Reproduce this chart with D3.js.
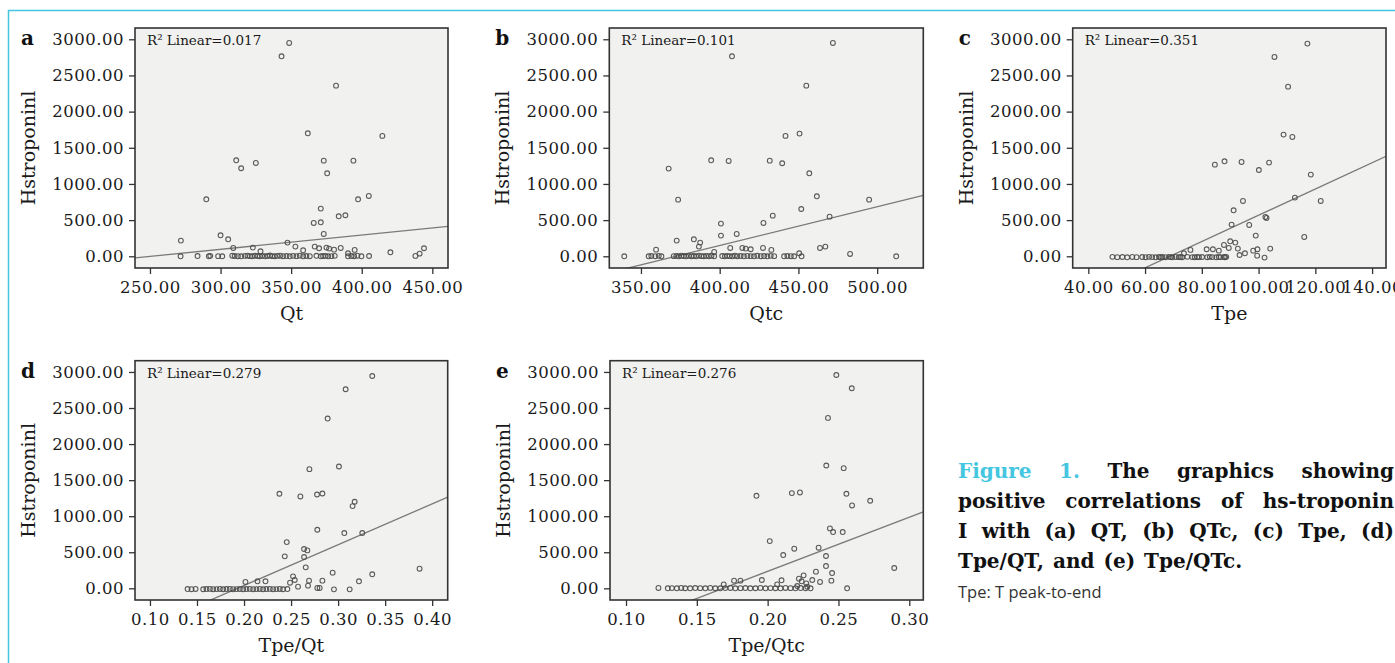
<!DOCTYPE html>
<html>
<head>
<meta charset="utf-8">
<script src="https://cdn.jsdelivr.net/npm/d3@7"></script>
<style>
body { margin: 0; background: #fff; }
svg { display: block; }
</style>
</head>
<body>
<script>
// values, [x, hs-troponin I]
var qtPoints = [
	[348.6,2949],[343.2,2765],[381.8,2359],[361.8,1700],[414.6,1664],[311.1,1327],[314.6,1217],[325.0,1290],
	[373.1,1322],[394.1,1322],[375.5,1147],[289.9,788],[397.4,788],[405.0,834],[371.0,659],[383.7,553],
	[388.4,567],[366.0,461],[371.0,470],[373.1,309],[271.9,217],[300.0,290],[305.4,235],[309.0,115],
	[322.9,120],[328.3,69],[347.4,189],[353.0,134],[358.5,83],[366.7,134],[369.8,111],[375.0,120],
	[376.9,106],[380.4,92],[385.1,115],[390.3,41],[395.0,88],[420.3,55],[444.1,111],[441.0,37],[438.0,5],
	[271.7,0],[283.7,3],[291.7,0],[292.7,6],[298.3,2],[301.2,0],[308.3,8],[310.0,4],[312.3,1],[314.6,0],
	[317.2,5],[319.1,9],[320.8,2],[322.4,0],[324.3,7],[326.2,3],[327.8,1],[329.5,6],[331.4,0],[333.3,4],
	[335.0,10],[336.6,2],[338.4,0],[340.3,5],[342.2,8],[344.3,1],[346.7,3],[349.0,0],[351.4,6],[353.8,2],
	[356.1,9],[358.5,0],[360.8,4],[363.2,1],[367.9,7],[371.0,0],[372.6,3],[374.3,5],[376.2,0],[378.5,2],
	[380.9,6],[390.3,0],[392.7,3],[394.6,1],[396.9,8],[399.8,0],[405.2,4]
];
var qtcPoints = [
	[471.9,2949],[407.8,2765],[455.0,2359],[441.8,1664],[450.7,1696],[394.6,1327],[405.7,1318],[431.8,1322],
	[439.7,1286],[367.6,1212],[456.9,1147],[373.6,783],[461.7,829],[494.9,783],[451.8,654],[433.7,562],
	[427.8,461],[400.8,452],[469.8,548],[400.8,286],[410.8,309],[372.7,217],[383.6,235],[387.6,189],
	[386.8,134],[359.6,92],[406.7,115],[414.4,115],[416.5,106],[419.7,97],[427.5,115],[432.8,88],
	[463.7,115],[467.1,134],[482.8,32],[512.1,0],[339.4,0],[396.5,60],[450.5,41],[452.0,0],
	[354.9,0],[356.6,4],[359.1,1],[361.3,6],[363.0,0],[370.8,2],[372.5,5],[374.0,0],[375.7,8],[377.2,3],
	[378.7,0],[380.4,6],[382.1,1],[383.6,4],[385.1,0],[386.8,9],[388.5,2],[389.9,0],[391.4,5],[393.1,1],
	[394.8,7],[396.5,0],[401.6,3],[403.3,0],[404.8,6],[406.3,2],[408.0,0],[409.7,8],[411.2,1],[413.3,4],
	[415.4,0],[417.6,5],[419.7,2],[421.8,0],[423.9,7],[426.1,1],[428.2,3],[430.3,0],[432.4,6],[434.6,2],
	[440.9,0],[443.0,4],[445.2,1],[447.3,0]
];
var tpePoints = [
	[117.2,2940],[105.6,2756],[110.4,2345],[108.8,1682],[111.9,1650],[84.6,1267],[88.0,1313],[94.0,1304],
	[103.7,1295],[100.1,1193],[118.4,1129],[94.5,765],[91.2,636],[112.8,811],[121.9,765],[90.5,438],
	[96.7,433],[102.4,544],[102.8,530],[99.0,286],[116.1,267],[90.0,207],[91.8,189],[87.8,157],
	[104.1,106],[81.7,97],[83.9,97],[86.0,78],[89.5,115],[92.7,106],[76.0,88],[98.1,78],[99.6,97],
	[95.2,41],[93.3,18],[99.5,9],[102.1,-18],[73.7,41],
	[48.5,-8],[50.2,-12],[52.0,-10],[53.7,-14],[55.5,-9],[57.0,-12],[59.0,-10],[60.2,-13],[61.4,-8],
	[62.5,-11],[63.7,-14],[64.9,-9],[65.5,-12],[66.1,-10],[67.2,-13],[68.4,-8],[69.0,-11],[69.6,-14],
	[70.8,-9],[71.9,-12],[72.5,-10],[73.1,-13],[74.9,-8],[76.6,-11],[77.5,-14],[78.4,-9],[79.0,-12],
	[80.1,-10],[81.9,-13],[82.8,-8],[83.7,-11],[85.1,-14],[86.0,-9],[86.6,-12],[87.8,-10],[88.2,-13],[88.6,-8]
];
var tpeQtPoints = [
	[0.3363,2944],[0.308,2760],[0.2889,2354],[0.2695,1652],[0.3009,1689],[0.2376,1311],[0.2599,1274],
	[0.2776,1301],[0.2833,1315],[0.3176,1200],[0.3154,1140],[0.2779,812],[0.3066,766],[0.3257,766],
	[0.2454,641],[0.2433,443],[0.2638,545],[0.2673,526],[0.2638,434],[0.2656,291],[0.3866,272],
	[0.3363,194],[0.2942,217],[0.2521,166],[0.2539,115],[0.2489,78],[0.2691,106],[0.2833,106],
	[0.3222,97],[0.2015,88],[0.2143,97],[0.2228,97],[0.2574,23],[0.268,37],[0.2956,-14],[0.3123,-14],
	[0.2779,5],[0.2804,5],
	[0.14,-10],[0.1442,-12],[0.1485,-9],[0.1566,-13],[0.1601,-10],[0.1637,-8],[0.1672,-12],[0.1708,-11],
	[0.1743,-9],[0.1778,-13],[0.1814,-10],[0.1849,-8],[0.1884,-12],[0.192,-11],[0.1955,-9],[0.1991,-13],
	[0.2026,-10],[0.2061,-8],[0.2097,-12],[0.2132,-11],[0.2167,-9],[0.2203,-13],[0.2238,-10],[0.2274,-8],
	[0.2309,-12],[0.2344,-11],[0.238,-9],[0.2415,-13],[0.2461,-10]
];
var tpeQtcPoints = [
	[0.2485,2958],[0.2594,2774],[0.2426,2363],[0.2414,1703],[0.2537,1666],[0.1921,1283],[0.2171,1320],
	[0.2228,1329],[0.2556,1311],[0.2596,1149],[0.2724,1214],[0.244,831],[0.2462,780],[0.253,780],
	[0.2015,655],[0.2188,549],[0.236,563],[0.211,461],[0.2412,448],[0.2412,309],[0.2455,212],[0.2341,231],
	[0.2894,282],[0.2254,180],[0.245,106],[0.1959,115],[0.2098,111],[0.1763,106],[0.1808,106],[0.2221,134],
	[0.224,97],[0.2315,115],[0.237,88],[0.2273,69],[0.2561,0],[0.1229,5],[0.169,55],[0.2067,55],
	[0.2209,32],[0.228,23],
	[0.1295,0],[0.1324,3],[0.1359,0],[0.139,5],[0.1418,1],[0.1453,0],[0.1489,4],[0.1524,2],[0.156,0],
	[0.1595,6],[0.163,1],[0.1666,0],[0.1701,3],[0.1737,5],[0.1772,0],[0.1808,2],[0.1843,4],[0.1878,0],
	[0.1914,1],[0.1949,6],[0.1985,0],[0.202,3],[0.2055,1],[0.2091,0],[0.2126,5],[0.2162,2],[0.2197,0],
	[0.2233,4],[0.2268,1],[0.2303,0]
];

// fitted lines: [intercept, slope]
var fitLines = [[-494.6, 1.97], [-1994, 5.358], [-1248, 18.15], [-1093, 5659], [-1267, 7511]];
var r2Values = ["0.017", "0.101", "0.351", "0.279", "0.276"];
var panelLetters = ["a", "b", "c", "d", "e"];
var xTitles = ["Qt", "Qtc", "Tpe", "Tpe/Qt", "Tpe/Qtc"];
var yTitle = "Hstroponinl";

var yTicks = [0, 500, 1000, 1500, 2000, 2500, 3000];
var qtTicks = [250, 300, 350, 400, 450];
var qtcTicks = [350, 400, 450, 500];
var tpeTicks = [40, 60, 80, 100, 120, 140];
var tpeQtTicks = [0.10, 0.15, 0.20, 0.25, 0.30, 0.35, 0.40];
var tpeQtcTicks = [0.10, 0.15, 0.20, 0.25, 0.30];

var captionLines = [
	"Figure 1. The graphics showing",
	"positive correlations of hs-troponin",
	"I with (a) QT, (b) QTc, (c) Tpe, (d)",
	"Tpe/QT, and (e) Tpe/QTc."
];
var captionNote = "Tpe: T peak-to-end";

var CYAN = "#45c6e0";
var SERIF = "'DejaVu Serif', 'Liberation Serif', serif";

var svg = d3.select("body").append("svg").attr("width", 1395).attr("height", 663);

// frame of the figure box
svg.append("path").attr("d", "M8.5,663 L8.5,10.5 L1395,10.5")
	.attr("fill", "none").attr("stroke", CYAN).attr("stroke-width", 1.5);

// plot boxes (pixel layout) and the visible x range of each
var panels = [
	{ pts: qtPoints, ticks: qtTicks, x: 135, y: 28, w: 313, h: 240, xd: [239.4, 461.1] },
	{ pts: qtcPoints, ticks: qtcTicks, x: 609.3, y: 28, w: 314, h: 240, xd: [329.9, 529.3] },
	{ pts: tpePoints, ticks: tpeTicks, x: 1072.7, y: 28, w: 313.3, h: 240, xd: [34.5, 144.9] },
	{ pts: tpeQtPoints, ticks: tpeQtTicks, x: 135, y: 360.7, w: 312.7, h: 239.3, xd: [0.0841, 0.4165] },
	{ pts: tpeQtcPoints, ticks: tpeQtcTicks, x: 610, y: 360.7, w: 313.3, h: 239.3, xd: [0.0887, 0.3099] }
];
var yDomain = [-162, 3156];
var fmt = d3.format(".2f");

panels.forEach(function(p, i) {
	var x = d3.scaleLinear().domain(p.xd).range([0, p.w]);
	var y = d3.scaleLinear().domain(yDomain).range([p.h, 0]);
	var g = svg.append("g").attr("transform", "translate(" + p.x + "," + p.y + ")");

	g.append("clipPath").attr("id", "clip" + i)
		.append("rect").attr("width", p.w).attr("height", p.h);

	g.append("rect").attr("width", p.w).attr("height", p.h).attr("fill", "#f1f1f0");

	var inner = g.append("g").attr("clip-path", "url(#clip" + i + ")");
	var fit = fitLines[i];
	inner.append("line")
		.attr("x1", x(p.xd[0])).attr("y1", y(fit[0] + fit[1] * p.xd[0]))
		.attr("x2", x(p.xd[1])).attr("y2", y(fit[0] + fit[1] * p.xd[1]))
		.attr("stroke", "#7a7a7a").attr("stroke-width", 1.3);

	inner.selectAll("circle").data(p.pts).enter().append("circle")
		.attr("cx", function(d) { return x(d[0]); })
		.attr("cy", function(d) { return y(d[1]); })
		.attr("r", 2.4)
		.attr("fill", "none").attr("stroke", "#4a4a4a").attr("stroke-opacity", 0.9).attr("stroke-width", 1.1);

	g.append("rect").attr("width", p.w).attr("height", p.h)
		.attr("fill", "none").attr("stroke", "#333").attr("stroke-width", 1.6);

	var ya = g.append("g").call(d3.axisLeft(y).tickValues(yTicks).tickFormat(fmt).tickSize(6).tickPadding(5));
	var xa = g.append("g").attr("transform", "translate(0," + p.h + ")")
		.call(d3.axisBottom(x).tickValues(p.ticks).tickFormat(fmt).tickSize(6));
	[ya, xa].forEach(function(a) {
		a.select(".domain").remove();
		a.selectAll(".tick line").attr("stroke", "#333").attr("stroke-width", 1.3);
		a.selectAll("text").attr("font-family", SERIF).attr("font-size", 16.5)
			.attr("letter-spacing", 0.5).attr("fill", "#1a1a1a");
	});
	xa.selectAll("text").attr("y", 25).attr("dy", 0);

	g.append("text").attr("x", 12).attr("y", 17)
		.attr("font-family", SERIF).attr("font-size", 13.5).attr("fill", "#1a1a1a")
		.text("R\u00b2 Linear=" + r2Values[i]);

	g.append("text").attr("x", -114).attr("y", 17)
		.attr("font-family", SERIF).attr("font-weight", "bold").attr("font-size", 20).attr("fill", "#111")
		.text(panelLetters[i]);

	g.append("text").attr("transform", "translate(-100," + (p.h / 2) + ") rotate(-90)")
		.attr("text-anchor", "middle")
		.attr("font-family", SERIF).attr("font-size", 19).attr("fill", "#1a1a1a")
		.text(yTitle);

	g.append("text").attr("x", p.w / 2).attr("y", p.h + 52)
		.attr("text-anchor", "middle")
		.attr("font-family", SERIF).attr("font-size", 19).attr("fill", "#1a1a1a")
		.text(xTitles[i]);
});

// caption, justified like the journal layout
var capLeft = 958, capRight = 1394;
captionLines.forEach(function(line, li) {
	var words = line.split(" ");
	var t = svg.append("text").attr("y", 477.5 + li * 30.3)
		.attr("font-family", SERIF).attr("font-weight", "bold").attr("font-size", 20);
	var spans = words.map(function(w, wi) {
		return t.append("tspan").text(w)
			.attr("fill", (li == 0 && wi < 2) ? CYAN : "#111");
	});
	var widths = spans.map(function(s) { return s.node().getComputedTextLength(); });
	var total = d3.sum(widths);
	var gap = (li < captionLines.length - 1) ? (capRight - capLeft - total) / (words.length - 1) : 9;
	var cx = capLeft;
	spans.forEach(function(s, wi) {
		s.attr("x", cx);
		cx += widths[wi] + gap;
	});
});
svg.append("text").attr("x", capLeft).attr("y", 598)
	.attr("font-family", "'Open Sans', 'Noto Sans', sans-serif").attr("font-size", 16.5).attr("fill", "#333")
	.text(captionNote);
</script>
</body>
</html>
